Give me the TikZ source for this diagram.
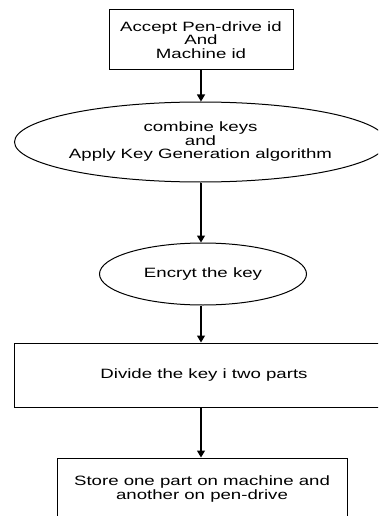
\documentclass[tikz,border=0pt]{standalone}
\usepackage{fontspec}
\setmainfont{Liberation Sans}[FakeStretch=1.38]
\usetikzlibrary{shapes.geometric,arrows.meta}

\tikzset{
  stepbox/.style={draw, rectangle, inner sep=0pt, align=center, line width=1pt},
  stepoval/.style={draw, ellipse, inner sep=0pt, align=center, line width=1pt},
  flow/.style={-{Triangle[length=7pt,width=8pt]}, line width=1.1pt},
}

\begin{document}
\begin{tikzpicture}[x=1pt, y=-1pt, font=\fontsize{13.5}{13.5}\selectfont]

\useasboundingbox (0,0) rectangle (378,516);
\clip (0,0) rectangle (378,516);

\node[stepbox, minimum width=184pt, minimum height=60pt] (accept) at (201,40) {Accept Pen-drive id\\And\\Machine id};

\node[stepoval, minimum width=350pt, minimum height=80pt] (combine) at (200.5,142) {combine keys\\and\\Apply Key Generation algorithm};

\node[stepoval, minimum width=207pt, minimum height=62pt] (encrypt) at (203,274) {Encryt the key};

\node[stepbox, minimum width=380pt, minimum height=64pt] (divide) at (204,375) {Divide the key i two parts};

\node[stepbox, minimum width=290pt, minimum height=62pt] (store) at (202,489) {Store one part on machine and\\another on pen-drive};

\draw[flow] (accept.south) -- (accept.south |- combine.north);
\draw[flow] (combine.south -| accept.south) -- (accept.south |- encrypt.north);
\draw[flow] (encrypt.south -| accept.south) -- (accept.south |- divide.north);
\draw[flow] (divide.south -| accept.south) -- (accept.south |- store.north);

\end{tikzpicture}
\end{document}
